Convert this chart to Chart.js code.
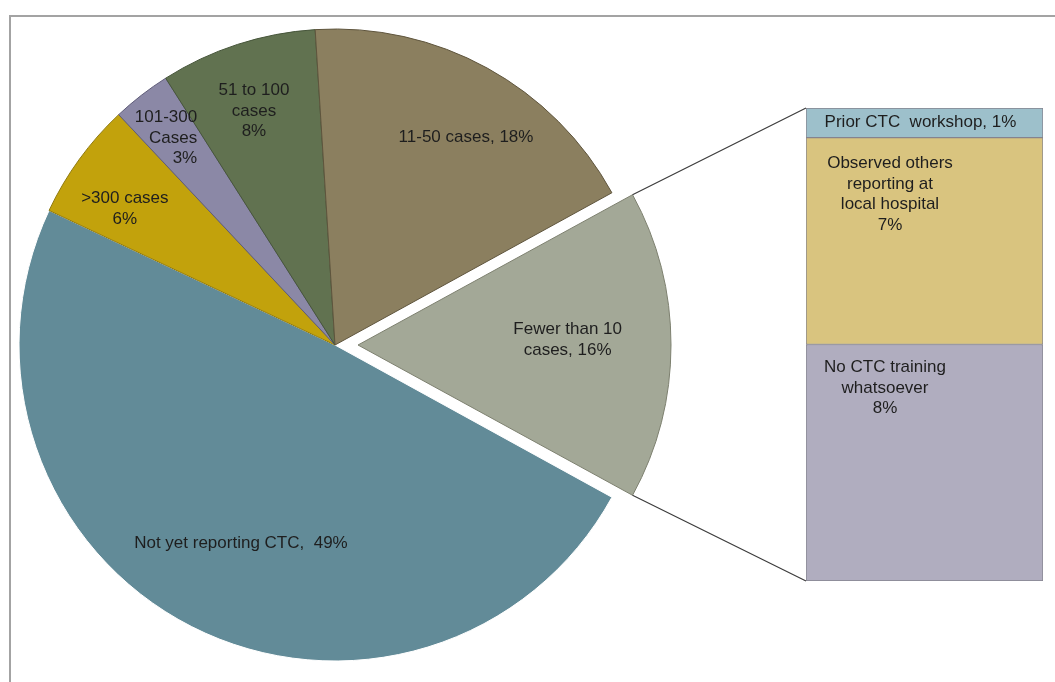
<!DOCTYPE html>
<html>
<head>
<meta charset="utf-8">
<script src="https://cdn.jsdelivr.net/npm/chart.js@4.4.1/dist/chart.umd.min.js"></script>
<style>
  html, body { margin: 0; padding: 0; background: #fff; }
  #wrap { position: relative; width: 1055px; height: 682px; overflow: hidden; }
  #frame { position: absolute; left: 9px; top: 15px; right: -10px; bottom: -10px;
           border-left: 2px solid #a3a3a3; border-top: 2px solid #a3a3a3; }
  canvas { position: absolute; left: 0; top: 0; }
</style>
</head>
<body>
<div id="wrap">
  <div id="frame"></div>
  <canvas id="pie" width="1055" height="682"></canvas>
  <canvas id="bar" width="1055" height="682"></canvas>
</div>
<script>
// pie slices, clockwise, starting with the exploded one
var pieCategories = ['Fewer than 10 cases', 'Not yet reporting CTC', '>300 cases', '101-300 Cases', '51 to 100 cases', '11-50 cases'];
var pieValues = [16, 49, 6, 3, 8, 18];
var pieLabelLines = [
  ['Fewer than 10', 'cases, 16%'],
  ['Not yet reporting CTC,  49%'],
  ['>300 cases', '6%'],
  ['101-300', 'Cases', '3%'],
  ['51 to 100', 'cases', '8%'],
  ['11-50 cases, 18%']
];

// breakdown of the "Fewer than 10" slice, bottom to top
var barCategories = ['No CTC training whatsoever', 'Observed others reporting at local hospital', 'Prior CTC workshop'];
var barValues = [8, 7, 1];
var barLabelLines = [
  ['No CTC training', 'whatsoever', '8%'],
  ['Observed others', 'reporting at', 'local hospital', '7%'],
  ['Prior CTC  workshop, 1%']
];

// styling
var pieColors = ['#a3a897', '#628b98', '#c2a20c', '#8b88a6', '#617250', '#8b7f5f'];
var pieBorders = ['#7d806f', '#ffffff', '#8f7a10', '#5f5c78', '#46553a', '#5e543c'];
var explode = [92, 0, 0, 0, 0, 0];     // chart.js offset, moves the slice offset/4 px out
var labelFrac = [0.67, 0.694, 0.792, 0.846, 0.784, 0.778];
var labelTurn = [-1.4, -1.6, -3.1, -1.4, -1.1, 3.4];   // degrees
var labelAlign = ['center', 'center', 'center', 'right', 'center', 'center'];
var barColors = ['#b0adbf', '#d9c47f', '#9dc0cb'];
var barLabelPos = [{ dx: -39.5, dy: 23 }, { dx: -34.5, dy: 26 }, { dx: -4, dy: 14.5 }];
var FONT = '17px "Liberation Sans", Arial, sans-serif';
var TEXT = '#1e1e1e';
var LINE_H = 20.5;

function drawLines(ctx, lines, x, y, align) {
  ctx.save();
  ctx.font = FONT;
  ctx.fillStyle = TEXT;
  ctx.textBaseline = 'middle';
  if (align === 'right') {
    // block is centred on x, lines flush to its right edge
    var w = Math.max.apply(null, lines.map(function (t) { return ctx.measureText(t).width; }));
    ctx.textAlign = 'right';
    x += w / 2;
  } else {
    ctx.textAlign = 'center';
  }
  lines.forEach(function (t, i) { ctx.fillText(t, x, y + i * LINE_H); });
  ctx.restore();
}

// where chart.js actually puts an (offset) arc
function arcGeom(arc) {
  var off = (arc.options.offset || 0) / 4;
  var mid = (arc.startAngle + arc.endAngle) / 2;
  var fix = 1 - Math.sin(Math.min(Math.PI, arc.circumference));
  var radOff = off * fix;
  var R = arc.outerRadius + radOff;
  var alpha = arc.endAngle - arc.startAngle;
  var beta = Math.max(0.001, alpha * R - radOff / Math.PI) / R;
  var ao = (alpha - beta) / 2;
  return {
    cx: arc.x + Math.cos(mid) * off,
    cy: arc.y + Math.sin(mid) * off,
    r: R, mid: mid,
    a0: arc.startAngle + ao, a1: arc.endAngle - ao
  };
}

// offset also grows the radius a bit, undo that (and shrink a touch like the original)
var keepRadius = {
  id: 'keepRadius',
  afterDatasetUpdate: function (chart) {
    chart.getDatasetMeta(0).data.forEach(function (arc) {
      var off = (arc.options.offset || 0) / 4;
      if (off) {
        var fix = 1 - Math.sin(Math.min(Math.PI, arc.circumference));
        arc.outerRadius -= off * fix + 3;
      }
    });
  }
};

var pieText = {
  id: 'pieText',
  afterDatasetsDraw: function (chart) {
    var ctx = chart.ctx;
    chart.getDatasetMeta(0).data.forEach(function (arc, i) {
      var g = arcGeom(arc);
      var a = g.mid + labelTurn[i] * Math.PI / 180;
      var r = g.r * labelFrac[i];
      var lines = pieLabelLines[i];
      var x = g.cx + Math.cos(a) * r;
      var y = g.cy + Math.sin(a) * r - (lines.length - 1) * LINE_H / 2;
      drawLines(ctx, lines, x, y, labelAlign[i]);
    });
  }
};

var pieChart = new Chart(document.getElementById('pie'), {
  type: 'pie',
  data: {
    labels: pieCategories,
    datasets: [{
      data: pieValues,
      backgroundColor: pieColors,
      borderColor: pieBorders,
      borderWidth: 1,
      offset: explode
    }]
  },
  options: {
    responsive: false,
    animation: false,
    devicePixelRatio: 1,
    rotation: 61.2,
    radius: 316,
    layout: { padding: { left: 0, right: 385, top: 8, bottom: 0 } },
    plugins: { legend: { display: false }, tooltip: { enabled: false } }
  },
  plugins: [keepRadius, pieText]
});

// lines from the exploded slice to the breakdown bar
var connectors = {
  id: 'connectors',
  beforeDatasetsDraw: function (chart) {
    var arc = pieChart.getDatasetMeta(0).data[0];
    var g = arcGeom(arc);
    var topEl = chart.getDatasetMeta(barValues.length - 1).data[0];
    var botEl = chart.getDatasetMeta(0).data[0];
    var left = topEl.x - topEl.width / 2;
    var ctx = chart.ctx;
    ctx.save();
    ctx.strokeStyle = '#3c3c3c';
    ctx.lineWidth = 1.2;
    ctx.beginPath();
    ctx.moveTo(g.cx + Math.cos(g.a0) * g.r, g.cy + Math.sin(g.a0) * g.r);
    ctx.lineTo(left, topEl.y);
    ctx.moveTo(g.cx + Math.cos(g.a1) * g.r, g.cy + Math.sin(g.a1) * g.r);
    ctx.lineTo(left, botEl.base);
    ctx.stroke();
    ctx.restore();
  }
};

var barText = {
  id: 'barText',
  afterDatasetsDraw: function (chart) {
    barValues.forEach(function (v, i) {
      var el = chart.getDatasetMeta(i).data[0];
      drawLines(chart.ctx, barLabelLines[i], el.x + barLabelPos[i].dx, el.y + barLabelPos[i].dy, 'center');
    });
  }
};

var barChart = new Chart(document.getElementById('bar'), {
  type: 'bar',
  data: {
    labels: ['Fewer than 10 cases'],
    datasets: barCategories.map(function (c, i) {
      return {
        label: c,
        data: [barValues[i]],
        backgroundColor: barColors[i],
        borderColor: '#85848f',
        borderWidth: 1,
        borderSkipped: false,
        barPercentage: 1,
        categoryPercentage: 1
      };
    })
  },
  options: {
    responsive: false,
    animation: false,
    devicePixelRatio: 1,
    layout: { padding: { left: 806, right: 12, top: 108, bottom: 101 } },
    scales: {
      x: { stacked: true, display: false },
      y: { stacked: true, display: false, min: 0, max: 16 }
    },
    plugins: { legend: { display: false }, tooltip: { enabled: false } }
  },
  plugins: [connectors, barText]
});
</script>
</body>
</html>
